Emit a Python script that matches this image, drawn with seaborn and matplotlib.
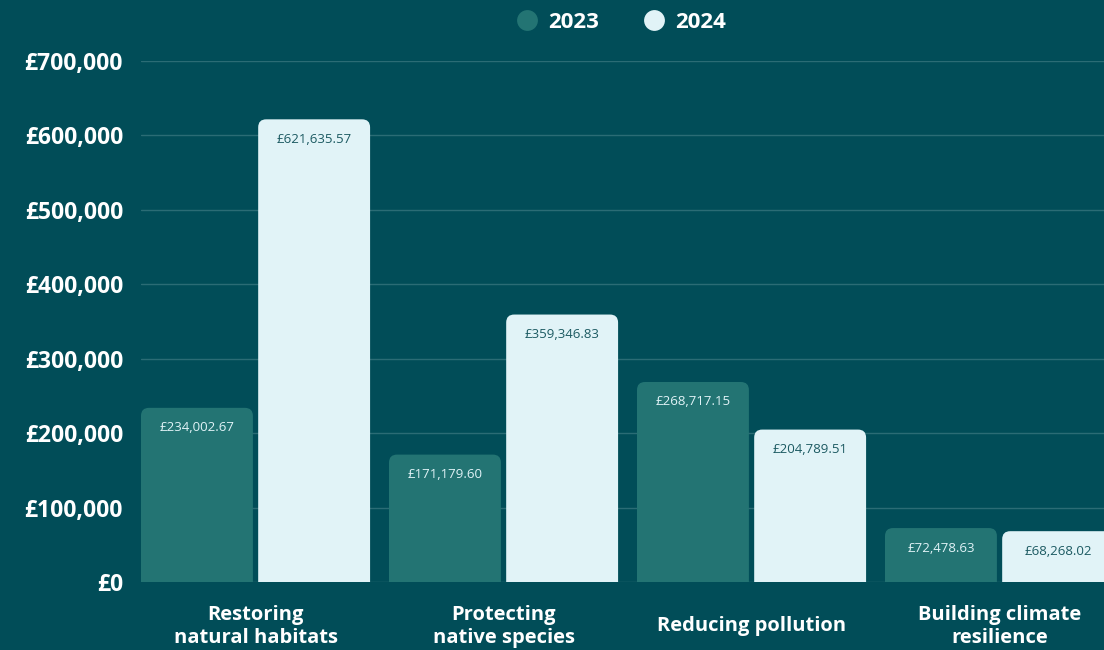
import matplotlib
matplotlib.use("Agg")
import matplotlib.pyplot as plt
import seaborn as sns
import pandas as pd
from matplotlib.patches import FancyBboxPatch
from matplotlib.lines import Line2D
from matplotlib.ticker import FuncFormatter, MultipleLocator

categories = ["Restoring\nnatural habitats", "Protecting\nnative species",
              "Reducing pollution", "Building climate\nresilience"]
years = ["2023", "2024"]
values_2023 = [234002.67, 171179.60, 268717.15, 72478.63]
values_2024 = [621635.57, 359346.83, 204789.51, 68268.02]

BG = "#014d58"
GRID = "#2b6c75"
C23 = "#237473"
C24 = "#e1f3f7"
TXT_DARK = "#1c5a62"

df = pd.DataFrame({
    "category": categories * 2,
    "year": [years[0]] * 4 + [years[1]] * 4,
    "value": values_2023 + values_2024,
})

sns.set_theme(style="white")
plt.rcParams["font.family"] = ["Open Sans", "DejaVu Sans"]

fig = plt.figure(figsize=(11.04, 6.5), dpi=100, facecolor=BG)
ax = fig.add_axes([141 / 1104, 68 / 650, 963 / 1104, 521 / 650])
ax.set_facecolor(BG)

W, G = 0.945, 0.045
sns.barplot(data=df, x="category", y="value", hue="year", order=categories,
            hue_order=years, palette=[C23, C24], width=W, gap=G,
            saturation=1, ax=ax, legend=False, zorder=3)

left = -W / 2 + (W / 2) * G / 2
ax.set_ylim(0, 700000)
ax.set_xlim(left, left + 963 / 248)
ax.yaxis.set_major_locator(MultipleLocator(100000))
ax.yaxis.set_major_formatter(FuncFormatter(lambda v, p: f"£{v:,.0f}"))
ax.grid(axis="y", color=GRID, linewidth=1, zorder=0)
ax.set_axisbelow(True)
for s in ax.spines.values():
    s.set_visible(False)
ax.set_xlabel("")
ax.set_ylabel("")
ax.tick_params(axis="y", length=0, pad=13, labelsize=16.5, labelcolor="white")
ax.tick_params(axis="x", length=0, pad=32, labelsize=14.5, labelcolor="white")
for lab in ax.get_yticklabels():
    lab.set_fontweight("bold")
for lab in ax.get_xticklabels():
    lab.set_fontweight("bold")
    lab.set_va("center")
    lab.set_linespacing(1.15)

# px per data unit
xs = 248.0
ys = 521.0 / 700000
r_px = 8
c23_rgba = matplotlib.colors.to_rgba(C23)
patches = [p for p in ax.patches]
for p in patches:
    x0 = p.get_x()
    w = p.get_width()
    h = p.get_height()
    fc = p.get_facecolor()
    p.remove()
    ext = 30000
    fb = FancyBboxPatch((x0, -ext), w, h + ext,
                        boxstyle=f"round,pad=0,rounding_size={r_px / xs}",
                        mutation_aspect=xs / ys,
                        facecolor=fc, edgecolor="none", zorder=3)
    ax.add_patch(fb)
    is23 = abs(fc[0] - c23_rgba[0]) < 0.05
    ax.text(x0 + w / 2, h - 20 / ys, f"£{h:,.2f}", ha="center", va="center",
            fontsize=9.5, color=(C24 if is23 else TXT_DARK), zorder=4)

handles = [Line2D([], [], marker="o", linestyle="none", markersize=15,
                  markerfacecolor=c, markeredgecolor="none") for c in (C23, C24)]
leg = fig.legend(handles, years, loc="center", bbox_to_anchor=(621 / 1104, 1 - 22 / 650),
                 ncol=2, frameon=False, handlelength=1.0, handletextpad=0.45,
                 columnspacing=2.0, prop={"weight": "bold", "size": 16})
for t in leg.get_texts():
    t.set_color("white")

fig.savefig("out.png", dpi=100, facecolor=BG)
